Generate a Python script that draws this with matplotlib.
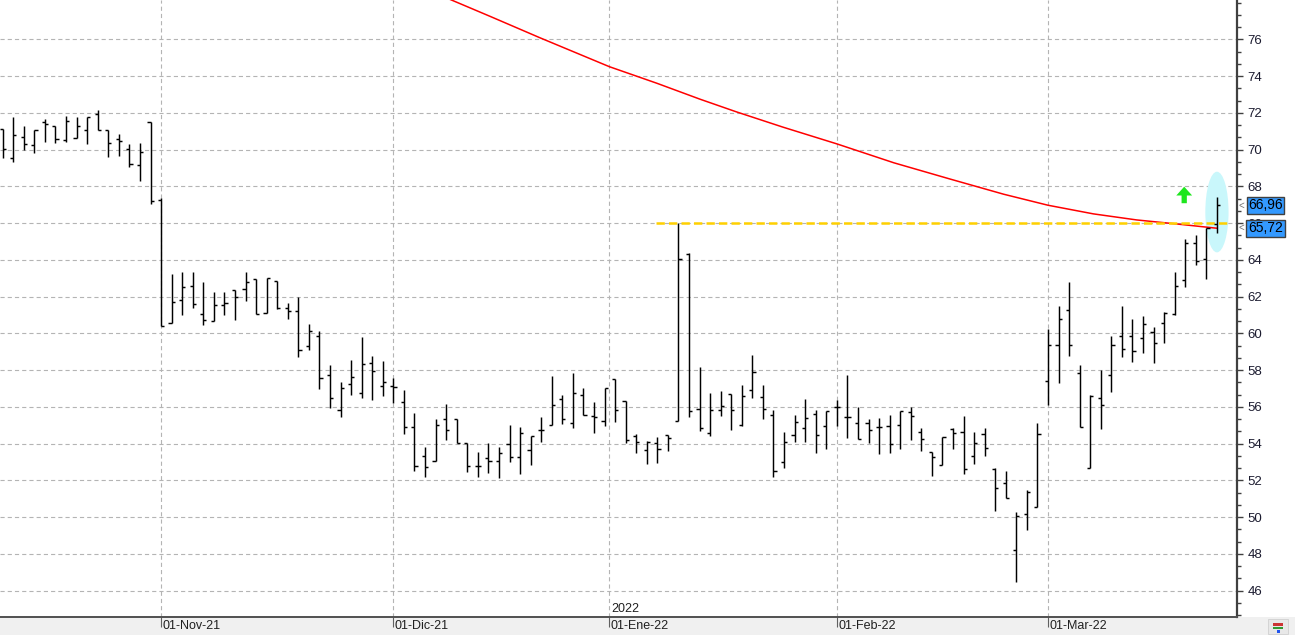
import numpy as np
import matplotlib
matplotlib.use('Agg')
import matplotlib.pyplot as plt
import matplotlib.transforms as mtransforms
from matplotlib.patches import Ellipse, Rectangle
from matplotlib.ticker import MultipleLocator

plt.rcParams['lines.scale_dashes'] = False
plt.rcParams['font.family'] = ['Liberation Sans', 'DejaVu Sans']

# daily bars, one per trading day (index 0 = first bar shown)
opens = [71.10, 69.52, 70.67, 70.25, 71.48, 71.30, 70.50, 70.61, 71.07, 71.92,
         71.05, 70.56, 70.01, 69.14, 71.48, 67.26, 60.58, 61.79, 62.56, 61.03,
         60.65, 61.52, 62.34, 62.41, 62.95, 61.08, 62.83, 61.36, 61.20, 59.29,
         59.83, 57.71, 55.81, 57.22, 56.73, 58.40, 57.11, 57.13, 56.24, 54.88,
         53.30, 53.03, 55.32, 55.32, 54.01, 52.76, 53.19, 53.03, 53.96, 53.25,
         53.63, 54.72, 54.99, 56.41, 55.10, 56.62, 55.48, 55.23, 57.49, 56.30,
         54.43, 53.65, 54.01, 54.45, 55.22, 64.31, 55.89, 54.55, 55.80, 56.69,
         55.01, 56.89, 56.51, 55.53, 53.01, 54.48, 54.83, 55.59, 54.97, 56.01,
         55.42, 55.10, 55.10, 54.88, 54.97, 54.99, 55.70, 54.61, 53.52, 52.81,
         54.81, 54.61, 53.30, 54.50, 52.61, 51.83, 48.19, 50.15, 50.56, 57.40,
         59.36, 61.25, 57.82, 52.65, 56.46, 57.71, 59.85, 59.85, 59.73, 60.05,
         60.54, 61.03, 62.90, 64.90, 64.03, 65.93]
highs = [71.10, 71.76, 71.28, 71.07, 71.67, 71.30, 71.83, 71.76, 71.76, 72.16,
         71.05, 70.85, 70.29, 70.34, 71.48, 67.35, 63.23, 63.32, 63.32, 62.79,
         62.23, 62.23, 62.34, 63.32, 62.95, 62.99, 62.83, 61.65, 61.96, 60.51,
         60.11, 58.26, 57.33, 58.55, 59.78, 58.75, 58.49, 57.57, 56.91, 55.66,
         53.81, 55.32, 56.13, 55.32, 54.01, 53.52, 54.01, 53.81, 55.01, 54.88,
         54.43, 55.42, 57.66, 56.62, 57.82, 57.02, 56.26, 57.04, 57.49, 56.30,
         54.50, 54.14, 54.37, 54.45, 66.00, 64.35, 58.18, 56.75, 56.86, 56.69,
         57.18, 58.82, 57.18, 55.80, 54.61, 55.55, 56.40, 55.80, 55.75, 56.37,
         57.73, 55.99, 55.32, 55.37, 55.57, 55.75, 55.97, 54.82, 53.52, 54.37,
         54.86, 55.48, 54.61, 54.82, 52.65, 52.50, 50.29, 51.47, 55.13, 60.23,
         61.49, 62.77, 58.26, 56.64, 57.98, 59.85, 61.49, 60.76, 60.94, 60.33,
         61.18, 63.32, 65.13, 65.33, 65.71, 67.40]
lows = [69.52, 69.31, 69.98, 69.83, 70.43, 70.38, 70.40, 70.61, 70.29, 71.05,
        69.61, 69.67, 69.07, 68.31, 67.02, 60.41, 60.58, 61.01, 61.39, 60.47,
        60.65, 61.01, 60.74, 61.77, 61.03, 61.08, 61.30, 60.79, 58.73, 59.09,
        56.99, 55.95, 55.46, 56.66, 56.50, 56.39, 56.60, 56.22, 54.50, 52.52,
        52.20, 53.03, 54.21, 54.01, 52.47, 52.20, 52.38, 52.14, 53.01, 52.36,
        52.85, 54.08, 54.99, 55.08, 54.86, 55.53, 54.59, 54.95, 55.19, 54.01,
        53.47, 52.87, 52.96, 53.57, 55.22, 55.46, 54.70, 54.43, 55.51, 54.75,
        54.97, 56.49, 55.35, 52.19, 52.68, 54.10, 54.10, 53.50, 53.72, 54.97,
        54.28, 54.24, 54.01, 53.41, 53.50, 53.72, 54.21, 53.61, 52.25, 52.81,
        53.72, 52.36, 52.90, 53.30, 50.35, 51.02, 46.48, 49.29, 50.56, 56.10,
        57.31, 58.78, 54.88, 52.65, 54.81, 56.78, 58.73, 58.46, 58.95, 58.40,
        59.49, 61.00, 62.54, 63.70, 62.94, 65.48]
closes = [70.01, 70.79, 70.30, 71.05, 71.38, 70.56, 71.54, 71.28, 71.76, 71.05,
          70.34, 70.45, 69.20, 69.89, 67.18, 60.41, 61.68, 62.50, 61.59, 60.70,
          61.52, 61.65, 61.97, 62.77, 61.03, 62.99, 61.36, 61.19, 59.09, 60.11,
          57.55, 56.48, 57.02, 57.60, 58.31, 57.93, 57.33, 57.10, 54.88, 52.76,
          52.70, 55.01, 54.72, 54.01, 52.76, 52.76, 53.03, 53.48, 53.28, 54.55,
          54.43, 54.75, 56.08, 55.32, 56.73, 55.53, 55.43, 57.04, 55.81, 54.19,
          54.07, 54.07, 53.70, 54.28, 64.03, 55.75, 54.86, 55.80, 56.02, 55.80,
          56.57, 57.87, 55.86, 52.48, 54.06, 55.17, 55.37, 54.44, 55.75, 55.97,
          55.46, 54.26, 54.72, 54.88, 53.95, 55.75, 55.48, 54.24, 53.25, 54.37,
          54.57, 52.61, 54.01, 53.75, 51.56, 51.02, 50.07, 51.34, 54.50, 59.36,
          60.76, 59.36, 54.88, 56.60, 56.08, 59.36, 59.13, 59.02, 60.49, 59.45,
          61.09, 62.57, 64.90, 63.94, 65.71, 66.96]

# moving average (red), read at a few bar positions
ma_idx = [42.0, 42.5, 46.2, 50.9, 57.46, 61.95, 66.05, 69.5, 73.9,
          79.0, 84.4, 89.7, 94.8, 99.0, 103.3, 107.4, 111.2, 114.8, 115.0]
ma_val = [78.26, 78.14, 77.24, 76.08, 74.51, 73.61, 72.74, 72.05, 71.22,
          70.31, 69.28, 68.40, 67.57, 66.97, 66.50, 66.17, 65.95, 65.73, 65.72]

month_pos = [15, 37, 57.46, 79, 99]
month_labels = ['01-Nov-21', '01-Dic-21', '01-Ene-22', '01-Feb-22', '01-Mar-22']

resist_level = 66.0
resist_start, resist_end = 61.9, 116.1
last_close = 66.96
last_ma = 65.72

W, H = 1295, 635
fig = plt.figure(figsize=(W / 100, H / 100), dpi=100)
fig.patch.set_facecolor('white')
# gray strip under the x axis
fig.add_artist(Rectangle((0, 0), 1, 18 / H, transform=fig.transFigure,
                         facecolor='#f0f0f0', edgecolor='none', zorder=0))

ax = fig.add_axes([0, 18 / H, 1237 / W, 617 / H])
ax.set_facecolor('white')
ax.set_xlim(-0.256, 116.9)
ax.set_ylim(44.56, 78.14)

for s in ['left', 'top']:
    ax.spines[s].set_visible(False)
ax.spines['right'].set_color('#404040')
ax.spines['right'].set_linewidth(1.6)
ax.spines['bottom'].set_color('#505050')
ax.spines['bottom'].set_linewidth(1.4)

# grid
for v in range(46, 77, 2):
    ax.axhline(v, color='#b4b4b4', lw=0.8, ls=(0, (3, 2.2)), zorder=0.5)
for p in month_pos:
    ax.axvline(p, color='#b4b4b4', lw=0.8, ls=(0, (3, 2.2)), zorder=0.5)

# y axis on the right
ax.yaxis.tick_right()
ax.set_yticks(range(46, 77, 2))
ax.yaxis.set_minor_locator(MultipleLocator(2 / 3))
ax.tick_params(axis='y', which='major', direction='out', length=4.5, width=1,
               color='#404040', pad=3, labelsize=9.5, labelcolor='#1c1c30')
ax.tick_params(axis='y', which='minor', direction='out', length=3, width=1,
               color='#404040')

# x axis month labels
ax.set_xticks(month_pos)
ax.set_xticklabels(month_labels)
ax.tick_params(axis='x', direction='out', length=7, width=0.8, color='#606060',
               pad=-5, labelsize=9, labelcolor='#202020')
for lbl in ax.get_xticklabels():
    lbl.set_ha('left')
    lbl.set_transform(lbl.get_transform() +
                      mtransforms.ScaledTranslation(1.5 / 100, 0, fig.dpi_scale_trans))

xb = mtransforms.blended_transform_factory(ax.transData, ax.transAxes)
ax.text(57.6, 0.004, '2022', transform=xb, ha='left', va='bottom', fontsize=9,
        color='#202020')

# highlight ellipse on the last bar
ax.add_patch(Ellipse((115.0, 66.6), 2.2, 4.39, facecolor='#c9f7fb',
                     edgecolor='none', zorder=1))

# moving average
ax.plot(ma_idx, ma_val, color='#ff0000', lw=1.1, zorder=2)

# resistance line
ax.plot([resist_start, resist_end], [resist_level, resist_level], color='#ffd000',
        lw=1.8, ls=(0, (6, 3)), zorder=2.5)

# OHLC bars
x = np.arange(len(opens))
tick = 0.3
ax.vlines(x, lows, highs, color='black', lw=1.05, zorder=3)
ax.hlines(opens, x - tick, x, color='black', lw=1.05, zorder=3)
ax.hlines(closes, x, x + tick, color='black', lw=1.05, zorder=3)

# green up arrow
ax.arrow(111.9, 67.08, 0, 0.42, width=0.5, head_width=1.5, head_length=0.48,
         length_includes_head=False, color='#1ee61e', lw=0, zorder=3)

# value boxes at the right
yb = mtransforms.blended_transform_factory(fig.transFigure, ax.transData)
for val, txt in [(last_close, '66,96'), (last_ma, '65,72')]:
    fig.text(1265.5 / W, val, txt, transform=yb, ha='center', va='center',
             fontsize=10, color='black',
             bbox=dict(boxstyle='square,pad=0.12', fc='#3399ff', ec='#404040', lw=1.0),
             zorder=5)
    fig.text(1241 / W, val, '<', transform=yb, ha='center', va='center',
             fontsize=7, color='#707070', zorder=5)

# little icon at the bottom right
fig.add_artist(Rectangle((1268 / W, 1 / H), 20 / W, 15 / H, transform=fig.transFigure,
                         facecolor='#e8e8e8', edgecolor='#d0d0d0', lw=0.6))
fig.add_artist(Rectangle((1273 / W, 9 / H), 10 / W, 3 / H, transform=fig.transFigure,
                         facecolor='#cc3333', edgecolor='none'))
fig.add_artist(Rectangle((1273 / W, 6 / H), 10 / W, 2 / H, transform=fig.transFigure,
                         facecolor='#339933', edgecolor='none'))
fig.add_artist(Rectangle((1277 / W, 2 / H), 3 / W, 3 / H, transform=fig.transFigure,
                         facecolor='#2255ee', edgecolor='none'))

fig.savefig('out.png', dpi=100)
